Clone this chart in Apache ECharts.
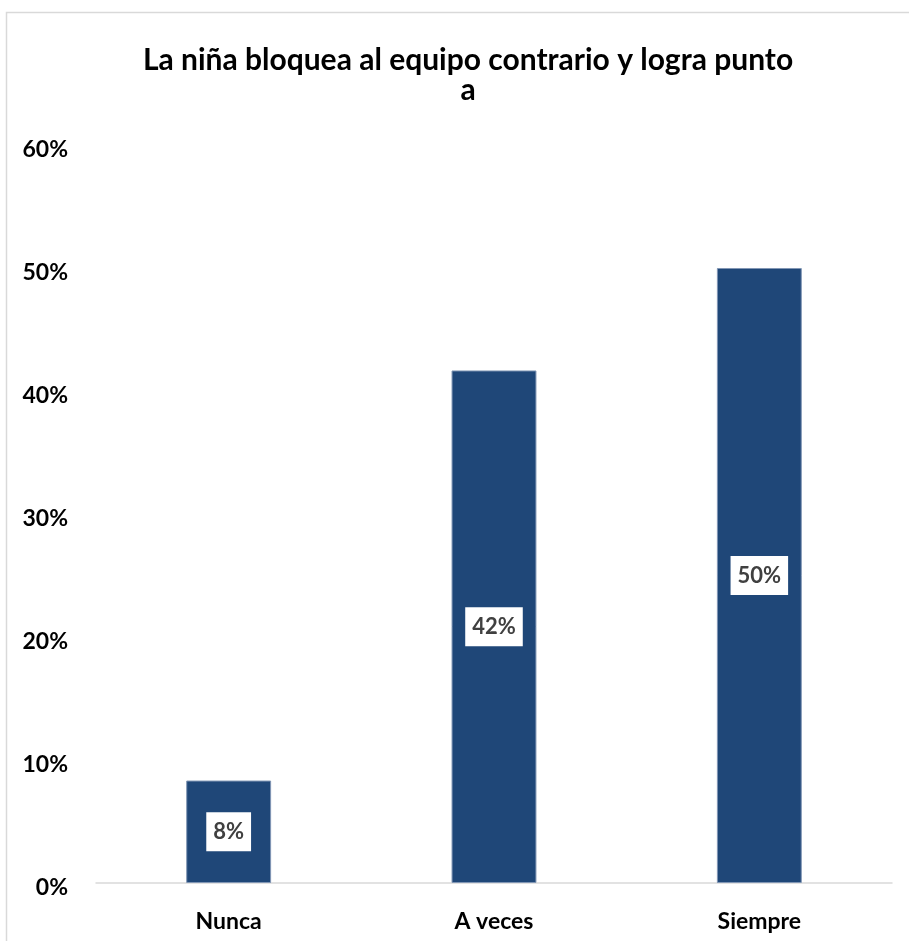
<!DOCTYPE html>
<html>
<head>
<meta charset="utf-8">
<script src="https://cdn.jsdelivr.net/npm/echarts@6/dist/echarts.min.js"></script>
<style>html,body{margin:0;padding:0;background:#fff}#c{width:909px;height:941px}</style>
</head>
<body>
<div id="c"></div>
<script>
const titleLines = ['La niña bloquea al equipo contrario y logra punto', 'a'];
const categories = ['Nunca', 'A veces', 'Siempre'];
const values = [8.33, 41.67, 50.0];
const yTicks = [0, 10, 20, 30, 40, 50, 60];

const chart = echarts.init(document.getElementById('c'));
chart.setOption({
  backgroundColor: '#fff',
  animation: false,
  graphic: [{
    type: 'rect', silent: true,
    shape: {x: 6.5, y: 12.5, width: 1000, height: 1000},
    style: {fill: 'none', stroke: '#d9d9d9', lineWidth: 1.5}
  }],
  title: {
    text: titleLines.join('\n'),
    left: 463, top: 40, textAlign: 'center',
    textStyle: {fontFamily: 'Lato', fontWeight: 'bold', fontSize: 30, color: '#000', lineHeight: 30}
  },
  grid: {left: 96, right: 17, top: 145, bottom: 58, containLabel: false},
  xAxis: {
    type: 'category', data: categories,
    axisLine: {lineStyle: {color: '#d9d9d9', width: 1.5}},
    axisTick: {show: false},
    axisLabel: {fontFamily: 'Lato', fontWeight: 'bold', fontSize: 23, color: '#000', margin: 27}
  },
  yAxis: {
    type: 'value', min: yTicks[0], max: yTicks[yTicks.length - 1], interval: 10,
    splitLine: {show: false}, axisLine: {show: false}, axisTick: {show: false},
    axisLabel: {fontFamily: 'Lato', fontWeight: 'bold', fontSize: 23, color: '#000', margin: 28,
      formatter: v => v + '%', verticalAlign: 'top', lineHeight: 23, padding: [-7, 0, 0, 0]}
  },
  series: [{
    type: 'bar', data: values, barWidth: '32%',
    itemStyle: {color: '#1f4778', borderColor: '#8196b4', borderWidth: 1},
    label: {
      show: true, position: 'inside',
      formatter: p => Math.round(p.value) + '%',
      fontFamily: 'Lato', fontWeight: 'bold', fontSize: 22, color: '#404040',
      backgroundColor: '#fff', padding: [9, 7, 8, 7]
    }
  }]
});
</script>
</body>
</html>
